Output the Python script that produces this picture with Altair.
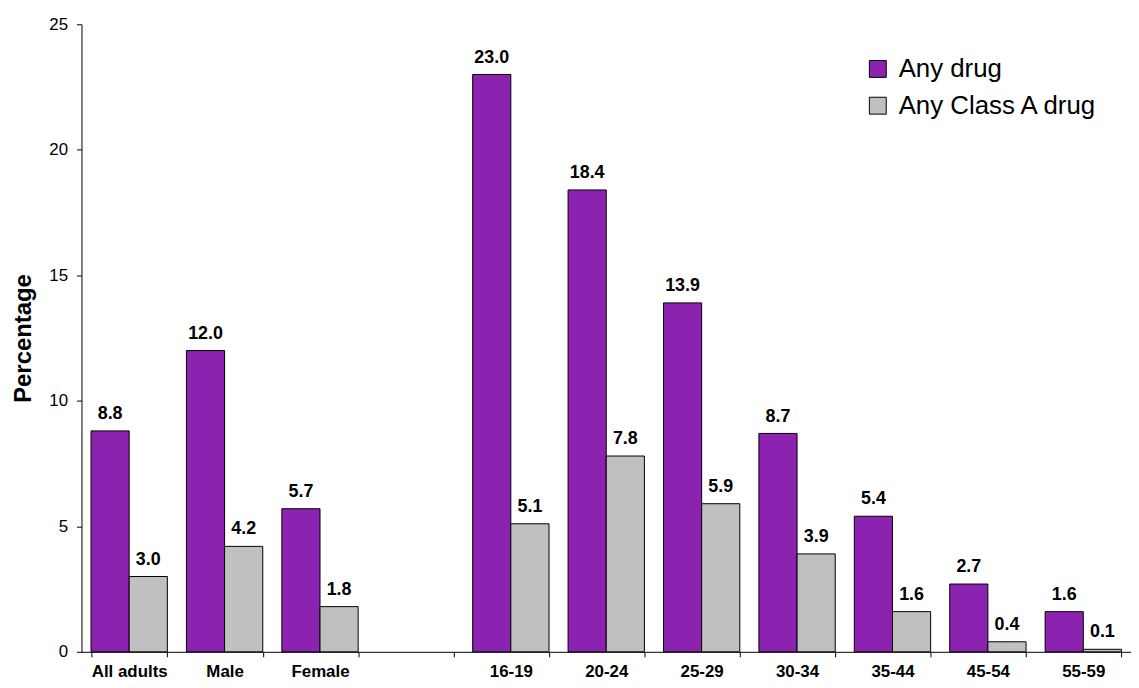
import altair as alt
import pandas as pd

categories = ["All adults", "Male", "Female", " ", "16-19", "20-24", "25-29",
              "30-34", "35-44", "45-54", "55-59"]
any_drug = [8.8, 12.0, 5.7, None, 23.0, 18.4, 13.9, 8.7, 5.4, 2.7, 1.6]
class_a = [3.0, 4.2, 1.8, None, 5.1, 7.8, 5.9, 3.9, 1.6, 0.4, 0.1]
series = ["Any drug", "Any Class A drug"]
colors = ["#8C23B0", "#C0C0C0"]

rows = []
for c, a, b in zip(categories, any_drug, class_a):
    if a is None:
        continue
    rows.append({"cat": c, "series": series[0], "value": a, "label": f"{a:.1f}"})
    rows.append({"cat": c, "series": series[1], "value": b, "label": f"{b:.1f}"})
df = pd.DataFrame(rows)

FONT = "Liberation Sans"

x = alt.X(
    "cat:N",
    sort=categories,
    scale=alt.Scale(domain=categories, paddingInner=0.2, paddingOuter=0.1),
    axis=alt.Axis(title=None, labelAngle=0, labelFontSize=17, labelFontWeight="bold",
                  labelColor="black", tickBand="extent", tickSize=5, tickColor="black",
                  domainColor="black", labelPadding=7, labelFont=FONT),
)
y = alt.Y(
    "value:Q",
    scale=alt.Scale(domain=[0, 25], nice=False),
    axis=alt.Axis(title="Percentage", values=[0, 5, 10, 15, 20, 25], grid=False,
                  labelFontSize=17, labelColor="black", tickSize=5, tickColor="black",
                  domainColor="black", labelPadding=9, titleFontSize=24,
                  titleFontWeight="bold", titleColor="black", titlePadding=13,
                  labelFont=FONT, titleFont=FONT),
)
xoff = alt.XOffset("series:N", sort=series, scale=alt.Scale(domain=series))

base = alt.Chart(df).encode(x=x, xOffset=xoff, y=y)

bars = base.mark_bar(stroke="black", strokeWidth=1).encode(
    color=alt.Color(
        "series:N",
        sort=series,
        scale=alt.Scale(domain=series, range=colors),
        legend=alt.Legend(title=None, orient="none", legendX=789, legendY=32,
                          symbolType="square", symbolSize=289, symbolStrokeColor="black",
                          symbolStrokeWidth=1, symbolOpacity=1, labelFontSize=26,
                          labelFont=FONT, labelColor="black", labelOffset=8,
                          rowPadding=11, labelLimit=400),
    )
)

labels = base.mark_text(baseline="alphabetic", dy=-12, fontSize=18, fontWeight="bold",
                        font=FONT, color="black").encode(text="label:N")

chart = alt.layer(bars, labels).properties(
    width=1057, height=632,
    autosize=alt.AutoSizeParams(type="none"),
    padding={"left": 74, "top": 14, "right": 0, "bottom": 26},
).configure(font=FONT).configure_view(stroke=None)

chart.save("out.html", embed_options={"renderer": "svg", "actions": False})
